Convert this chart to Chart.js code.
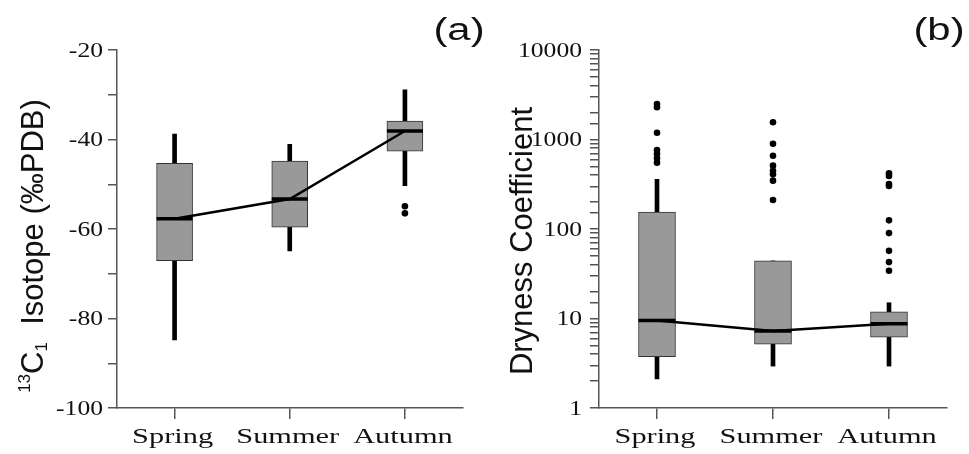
<!DOCTYPE html>
<html>
<head>
<meta charset="utf-8">
<script src="https://cdn.jsdelivr.net/npm/chart.js@4/dist/chart.umd.min.js"></script>
<style>
  html, body { margin: 0; padding: 0; background: #fff; }
  #wrap { position: relative; width: 969px; height: 454px; overflow: hidden; background: #fff; }
  canvas { position: absolute; top: 0; }
</style>
</head>
<body>
<div id="wrap">
  <canvas id="left" width="484" height="454" style="left:0px"></canvas>
  <canvas id="right" width="485" height="454" style="left:484px"></canvas>
</div>
<script>
// ---------- data ----------
const categories = ['Spring', 'Summer', 'Autumn'];

// (a) 13C1 isotope (‰PDB)
const c13Low    = [-84.8, -64.9, -50.3];
const c13Q1     = [-67.1, -59.6, -42.6];
const c13Median = [-57.7, -53.3, -38.1];
const c13Q3     = [-45.3, -44.8, -35.9];
const c13High   = [-38.8, -41.1, -28.9];
const c13OutlierCats = ['Autumn', 'Autumn'];
const c13OutlierVals = [-54.9, -56.5];
const c13TickValues = [-100, -80, -60, -40, -20];

// (b) Dryness coefficient
const dryLow    = [2.11, 2.94, 2.94];
const dryQ1     = [3.74, 5.15, 6.17];
const dryMedian = [9.5, 7.25, 8.75];
const dryQ3     = [155, 44, 11.9];
const dryHigh   = [359, 44, 15];
const dryOutlierCats = [
  'Spring','Spring','Spring','Spring','Spring','Spring','Spring',
  'Summer','Summer','Summer','Summer','Summer','Summer','Summer','Summer',
  'Autumn','Autumn','Autumn','Autumn','Autumn','Autumn','Autumn','Autumn','Autumn'
];
const dryOutlierVals = [
  2493, 2290, 1191, 764, 689, 617, 551,
  1556, 898, 659, 510, 448, 408, 347, 211,
  419, 391, 318, 302, 125, 90, 57, 42.7, 34.2
];
const dryTickValues = [1, 10, 100, 1000, 10000];

// ---------- helpers ----------
const AXIS = '#555';
const TXT = '#111';

function stretchText(ctx, text, x, y, font, sx, align, baseline) {
  ctx.save();
  ctx.font = font;
  ctx.fillStyle = TXT;
  ctx.textAlign = align;
  ctx.textBaseline = baseline;
  ctx.translate(x, y);
  ctx.scale(sx, 1);
  ctx.fillText(text, 0, 0);
  ctx.restore();
}

function makeDatasets(low, q1, med, q3, high, oCats, oVals, boxW) {
  return [
    {
      type: 'bar', label: 'whisker',
      data: categories.map((c, i) => [low[i], high[i]]),
      backgroundColor: '#000', borderWidth: 0,
      barThickness: 4, grouped: false, order: 4
    },
    {
      type: 'bar', label: 'box',
      data: categories.map((c, i) => [q1[i], q3[i]]),
      backgroundColor: '#999999', borderColor: '#333', borderWidth: 1,
      borderSkipped: false, barThickness: boxW, grouped: false, order: 3
    },
    {
      type: 'line', label: 'median',
      data: med,
      borderColor: '#000', borderWidth: 2.5,
      pointStyle: 'line', pointRadius: boxW / 2, pointHoverRadius: boxW / 2,
      pointBorderWidth: 3.5, pointBorderColor: '#000',
      tension: 0, order: 2, clip: false
    },
    {
      type: 'line', label: 'outliers',
      data: oCats.map((c, i) => ({ x: c, y: oVals[i] })),
      showLine: false,
      pointRadius: 3.3, pointHoverRadius: 3.3,
      pointBackgroundColor: '#000', pointBorderWidth: 0,
      order: 1, clip: false
    }
  ];
}

function textPlugin(opts) {
  return {
    id: 'textPlugin',
    afterDraw(chart) {
      const ctx = chart.ctx;
      const xs = chart.scales.x, ys = chart.scales.y;
      // y tick labels
      opts.yTicks.forEach(v => {
        const y = ys.getPixelForValue(v);
        stretchText(ctx, String(v), ys.right - opts.yLabelGap, y + 1,
          '21px "Liberation Serif"', 1.22, 'right', 'middle');
      });
      // x tick labels
      categories.forEach((c, i) => {
        const x = xs.getPixelForTick(i) - 2;
        stretchText(ctx, c, x, xs.top + 35,
          '22px "Liberation Serif"', 1.38, 'center', 'alphabetic');
      });
      // panel label
      stretchText(ctx, opts.panel, opts.panelX, 40,
        '31px "Liberation Sans"', 1.35, 'center', 'alphabetic');
      // y title
      ctx.save();
      ctx.fillStyle = TXT;
      ctx.textBaseline = 'alphabetic';
      ctx.textAlign = 'left';
      ctx.translate(opts.titleX, opts.titleY);
      ctx.rotate(-Math.PI / 2);
      let total = 0;
      opts.title.forEach(p => { ctx.font = p.font; total += ctx.measureText(p.t).width; });
      let x = -total / 2;
      opts.title.forEach(p => {
        ctx.font = p.font;
        ctx.fillText(p.t, x, p.dy || 0);
        x += ctx.measureText(p.t).width;
      });
      ctx.restore();
    }
  };
}

function makeChart(id, cfg) {
  const yScale = {
    type: cfg.yType,
    min: cfg.yMin, max: cfg.yMax,
    grid: { drawOnChartArea: false, drawTicks: true, tickLength: 9, color: AXIS, lineWidth: 1.5 },
    border: { display: true, color: AXIS, width: 1.5 },
    ticks: Object.assign({ display: false }, cfg.yTickOpts || {}),
    afterFit(s) { s.width = cfg.yWidth; }
  };
  return new Chart(document.getElementById(id), {
    type: 'bar',
    data: { labels: categories, datasets: cfg.datasets },
    options: {
      responsive: false,
      animation: false,
      events: [],
      layout: { padding: { left: 0, right: cfg.padRight, top: 50, bottom: 0 } },
      plugins: { legend: { display: false }, tooltip: { enabled: false } },
      scales: {
        x: {
          type: 'category',
          offset: true,
          grid: { offset: false, drawOnChartArea: false, drawTicks: true, tickLength: 11, color: AXIS, lineWidth: 1.5 },
          border: { display: true, color: AXIS, width: 1.5 },
          ticks: { display: false },
          afterFit(s) { s.height = 46; }
        },
        y: yScale
      }
    },
    plugins: [textPlugin(cfg.text)]
  });
}

makeChart('left', {
  yType: 'linear', yMin: -100, yMax: -20, yWidth: 117, padRight: 6,
  yTickOpts: { stepSize: 10 },
  datasets: makeDatasets(c13Low, c13Q1, c13Median, c13Q3, c13High, c13OutlierCats, c13OutlierVals, 36),
  text: {
    yTicks: c13TickValues, yLabelGap: 14,
    panel: '(a)', panelX: 459,
    titleX: 43, titleY: 246,
    title: [
      { t: '13', font: '17px "Liberation Sans"', dy: -13 },
      { t: 'C', font: '31px "Liberation Sans"' },
      { t: '1', font: '17px "Liberation Sans"', dy: 4 },
      { t: '  Isotope (‰PDB)', font: '31px "Liberation Sans"' }
    ]
  }
});

makeChart('right', {
  yType: 'logarithmic', yMin: 1, yMax: 10000, yWidth: 115, padRight: 7,
  datasets: makeDatasets(dryLow, dryQ1, dryMedian, dryQ3, dryHigh, dryOutlierCats, dryOutlierVals, 37),
  text: {
    yTicks: dryTickValues, yLabelGap: 17,
    panel: '(b)', panelX: 455,
    titleX: 48, titleY: 241,
    title: [
      { t: 'Dryness Coefficient', font: '31px "Liberation Sans"' }
    ]
  }
});
</script>
</body>
</html>
